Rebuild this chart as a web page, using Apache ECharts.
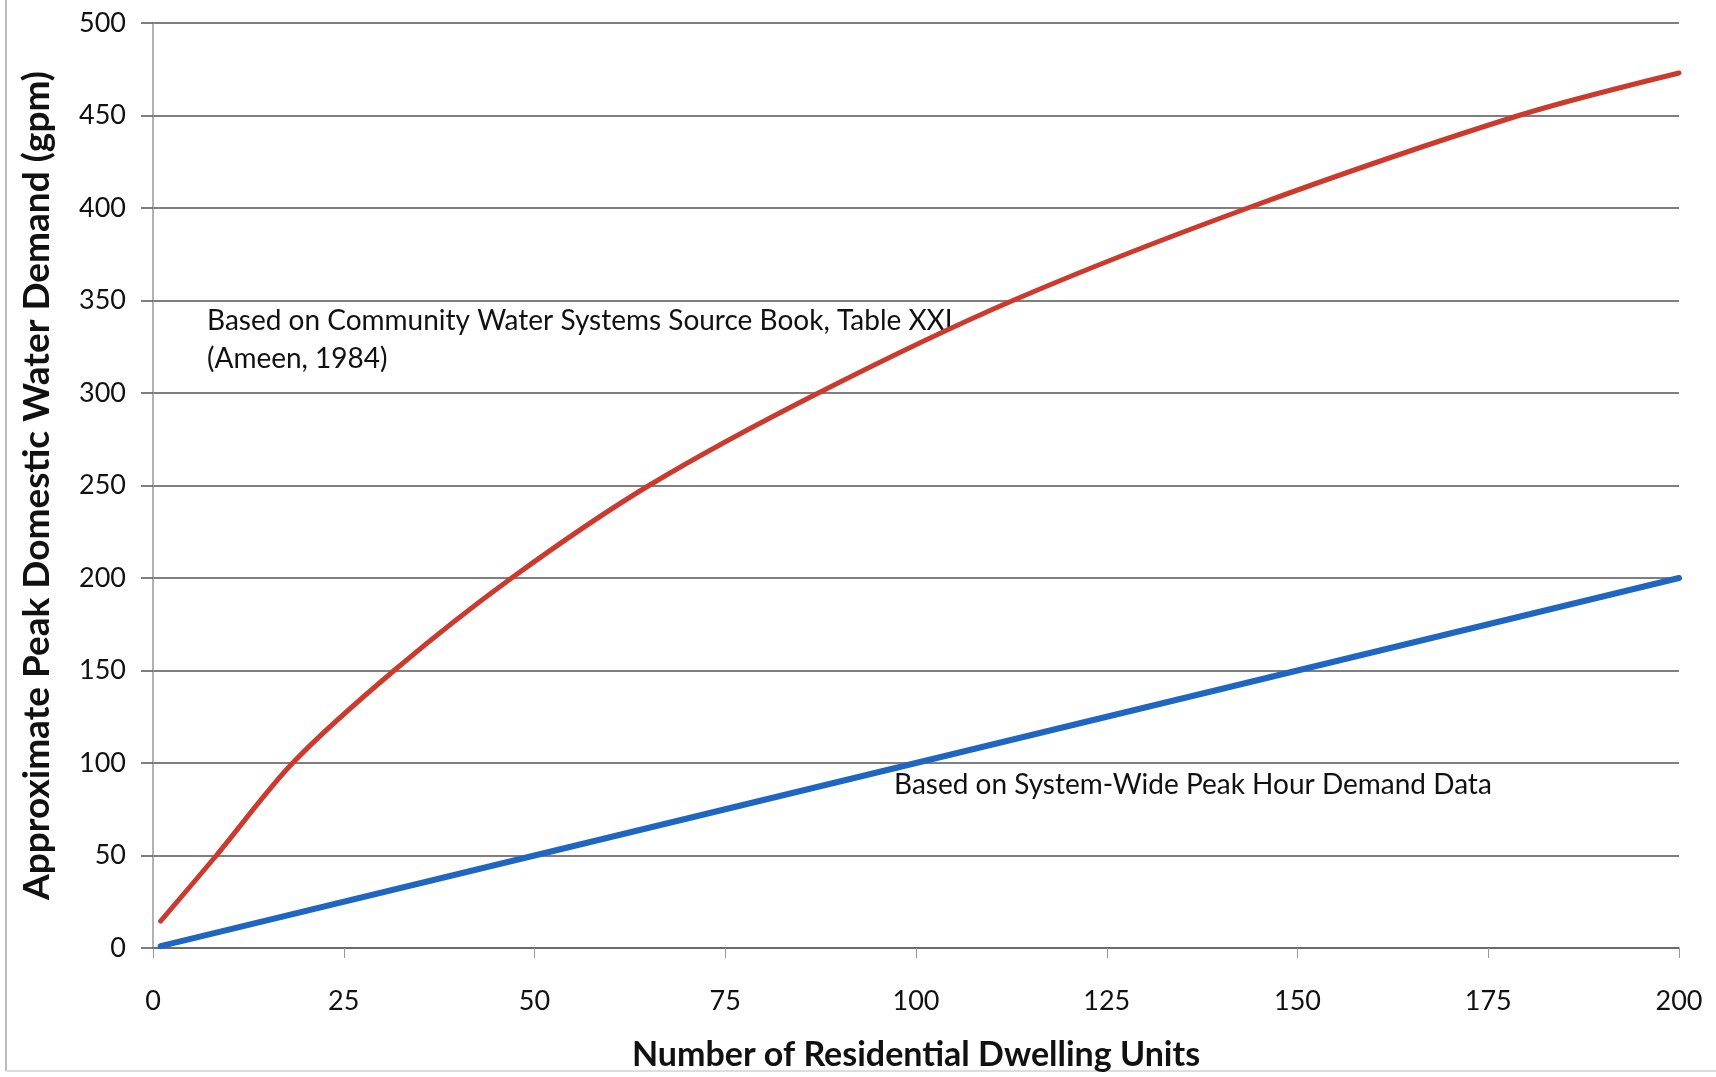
<!DOCTYPE html>
<html>
<head>
<meta charset="utf-8">
<script src="https://cdn.jsdelivr.net/npm/echarts@6/dist/echarts.min.js"></script>
<style>
html,body{margin:0;padding:0;background:#fff;}
#chart{width:1716px;height:1077px;}
</style>
</head>
<body>
<div id="chart"></div>
<script>
// Data
const ameenX = [1, 8.3, 18.3, 31.6, 47, 65, 87.2, 112.7, 143.5, 179, 200];
const ameenY = [14.5, 50, 100, 150, 200, 250, 300, 350, 400, 450, 473];
const systemX = [1, 50, 100, 150, 200];
const systemY = [1, 50, 100, 150, 200];
const xTicks = [0, 25, 50, 75, 100, 125, 150, 175, 200];
const yTicks = [0, 50, 100, 150, 200, 250, 300, 350, 400, 450, 500];
const xTitle = 'Number of Residential Dwelling Units';
const yTitle = 'Approximate Peak Domestic Water Demand (gpm)';
const note1 = ['Based on Community Water Systems Source Book, Table XXI', '(Ameen, 1984)'];
const note2 = 'Based on System-Wide Peak Hour Demand Data';

const chart = echarts.init(document.getElementById('chart'));
const fontFam = 'Lato, "Open Sans", sans-serif';
chart.setOption({
  animation: false,
  backgroundColor: '#fff',
  grid: {left: 153, right: 37, top: 23, bottom: 128},
  xAxis: {
    type: 'value', min: xTicks[0], max: xTicks[xTicks.length - 1], interval: 25,
    name: xTitle, nameLocation: 'middle', nameGap: 90,
    nameTextStyle: {fontFamily: fontFam, fontWeight: 'bold', fontSize: 34, color: '#111'},
    axisLine: {show: true, lineStyle: {color: '#666', width: 1.5}},
    axisTick: {show: true, inside: false, length: 10, lineStyle: {color: '#999', width: 1}},
    axisLabel: {margin: 40, fontFamily: fontFam, fontSize: 27, color: '#111'},
    splitLine: {show: false}
  },
  yAxis: {
    type: 'value', min: yTicks[0], max: yTicks[yTicks.length - 1], interval: 50,
    name: yTitle, nameLocation: 'middle', nameGap: 97, nameRotate: 90,
    nameTextStyle: {fontFamily: fontFam, fontWeight: 'bold', fontSize: 37, color: '#111'},
    axisLine: {show: true, lineStyle: {color: '#999', width: 1.5}},
    axisTick: {show: true, inside: false, length: 12, lineStyle: {color: '#555', width: 1.5}},
    axisLabel: {margin: 27, fontFamily: fontFam, fontSize: 27, color: '#111'},
    splitLine: {show: true, lineStyle: {color: '#555', width: 1.5}}
  },
  series: [
    {
      name: 'Ameen', type: 'line', smooth: 0.3, symbol: 'none',
      data: ameenX.map((x, i) => [x, ameenY[i]]),
      lineStyle: {color: '#cc3a2e', width: 5, cap: 'round'}
    },
    {
      name: 'System', type: 'line', symbol: 'none',
      data: systemX.map((x, i) => [x, systemY[i]]),
      lineStyle: {color: '#1f66c2', width: 6, cap: 'round'}
    }
  ],
  graphic: [
    {type: 'text', left: 207, top: 302, style: {text: note1.join('\n'), fontFamily: fontFam, fontSize: 28, lineHeight: 38, fill: '#111'}},
    {type: 'text', left: 894, top: 771, style: {text: note2, fontFamily: fontFam, fontSize: 28, fill: '#111'}},
    {type: 'line', shape: {x1: 6, y1: 0, x2: 6, y2: 1071}, style: {stroke: '#bbb', lineWidth: 2}},
    {type: 'line', shape: {x1: 6, y1: 1071, x2: 1716, y2: 1071}, style: {stroke: '#ddd', lineWidth: 2}}
  ]
});
</script>
</body>
</html>
